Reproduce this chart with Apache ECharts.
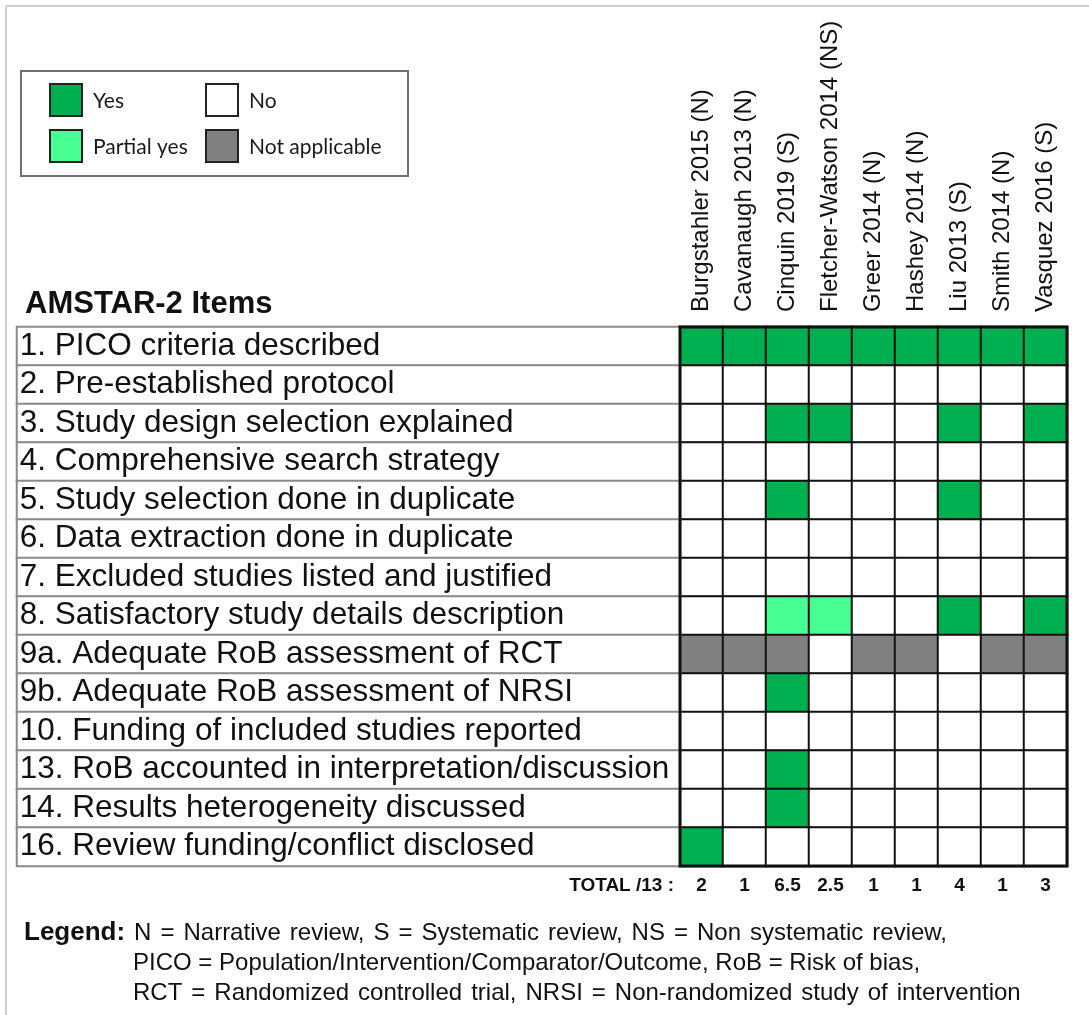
<!DOCTYPE html>
<html>
<head>
<meta charset="utf-8">
<script src="https://cdn.jsdelivr.net/npm/echarts@6/dist/echarts.min.js"></script>
<style>
  html, body { margin: 0; padding: 0; background: #fff; }
  #chart { width: 1089px; height: 1015px; }
</style>
</head>
<body>
<div id="chart"></div>
<script>
// 数据 ===============================================================
var studies = [
    'Burgstahler 2015 (N)', 'Cavanaugh 2013 (N)', 'Cinquin 2019 (S)',
    'Fletcher-Watson 2014 (NS)', 'Greer 2014 (N)', 'Hashey 2014 (N)',
    'Liu 2013 (S)', 'Smith 2014 (N)', 'Vasquez 2016 (S)'
];
var items = [
    '1. PICO criteria described',
    '2. Pre-established protocol',
    '3. Study design selection explained',
    '4. Comprehensive search strategy',
    '5. Study selection done in duplicate',
    '6. Data extraction done in duplicate',
    '7. Excluded studies listed and justified',
    '8. Satisfactory study details description',
    '9a. Adequate RoB assessment of RCT',
    '9b. Adequate RoB assessment of NRSI',
    '10. Funding of included studies reported',
    '13. RoB accounted in interpretation/discussion',
    '14. Results heterogeneity discussed',
    '16. Review funding/conflict disclosed'
];
// 1 = Yes, 0.5 = Partial yes, 0 = No, -1 = Not applicable
var ratings = [
    [1, 1, 1, 1, 1, 1, 1, 1, 1],
    [0, 0, 0, 0, 0, 0, 0, 0, 0],
    [0, 0, 1, 1, 0, 0, 1, 0, 1],
    [0, 0, 0, 0, 0, 0, 0, 0, 0],
    [0, 0, 1, 0, 0, 0, 1, 0, 0],
    [0, 0, 0, 0, 0, 0, 0, 0, 0],
    [0, 0, 0, 0, 0, 0, 0, 0, 0],
    [0, 0, 0.5, 0.5, 0, 0, 1, 0, 1],
    [-1, -1, -1, 0, -1, -1, 0, -1, -1],
    [0, 0, 1, 0, 0, 0, 0, 0, 0],
    [0, 0, 0, 0, 0, 0, 0, 0, 0],
    [0, 0, 1, 0, 0, 0, 0, 0, 0],
    [0, 0, 1, 0, 0, 0, 0, 0, 0],
    [1, 0, 0, 0, 0, 0, 0, 0, 0]
];
var totals = ['2', '1', '6.5', '2.5', '1', '1', '4', '1', '3'];
var ratingNames = ['Yes', 'No', 'Partial yes', 'Not applicable'];
var ratingValues = [1, 0, 0.5, -1];
var ratingColors = ['#00b050', '#ffffff', '#47ff93', '#808080'];
var noteLines = [
    'N = Narrative review, S = Systematic review, NS = Non systematic review,',
    'PICO = Population/Intervention/Comparator/Outcome, RoB = Risk of bias,',
    'RCT = Randomized controlled trial, NRSI = Non-randomized study of intervention'
];

// 函数定义 ===========================================================
function getCellData() {
    var out = [];
    ratings.forEach(function(row, y) {
        row.forEach(function(v, x) {
            out.push([x, y, v]);
        });
    });
    return out;
}

function getLabelData() {
    return items.map(function(item, y) {
        return [0, y, 0];
    });
}

// 空格换成定宽片段 (原图略微两端对齐)
function spaced(line) {
    return line.split(' ').join('{s|}');
}

function legendGraphics() {
    var g = [{
        type: 'rect',
        shape: { x: 21, y: 71, width: 387, height: 105 },
        style: { fill: '#fff', stroke: '#6f6f6f', lineWidth: 2 }
    }];
    var pos = [[50, 84], [206, 84], [50, 130], [206, 130]];
    ratingNames.forEach(function(name, i) {
        g.push({
            type: 'rect',
            shape: { x: pos[i][0], y: pos[i][1], width: 32, height: 32 },
            style: { fill: ratingColors[i], stroke: '#222', lineWidth: 2 }
        });
        g.push({
            type: 'text',
            x: pos[i][0] + 43,
            y: pos[i][1] + 17,
            style: {
                text: name, fill: '#1a1a1a', font: '21px Lato',
                textVerticalAlign: 'middle'
            }
        });
    });
    return g;
}

var chart = echarts.init(document.getElementById('chart'));

var noteFont = '24px "Liberation Sans"';
var option = {
    animation: false,
    title: {
        text: 'AMSTAR-2 Items',
        left: 20,
        top: 284,
        textStyle: { fontFamily: 'Liberation Sans', fontSize: 31, fontWeight: 'bold', color: '#111' }
    },
    grid: [
        { left: 680, top: 327, width: 387, height: 539 },
        { left: 17, top: 327, width: 663, height: 539 }
    ],
    xAxis: [
        {
            gridIndex: 0, type: 'category', data: studies, position: 'top',
            axisLine: { show: false }, axisTick: { show: false }, splitLine: { show: false },
            axisLabel: {
                rotate: -90, margin: 15, interval: 0,
                fontFamily: 'Liberation Sans', fontSize: 24, color: '#111'
            }
        },
        {
            gridIndex: 0, type: 'category', data: totals, position: 'bottom',
            axisLine: { show: false }, axisTick: { show: false }, splitLine: { show: false },
            axisLabel: {
                margin: 10, interval: 0,
                fontFamily: 'Liberation Sans', fontSize: 19, fontWeight: 'bold', color: '#111'
            }
        },
        { gridIndex: 1, type: 'category', data: [''], show: false }
    ],
    yAxis: [
        { gridIndex: 0, type: 'category', data: items, inverse: true, show: false },
        { gridIndex: 1, type: 'category', data: items, inverse: true, show: false }
    ],
    visualMap: {
        type: 'piecewise',
        show: false,
        seriesIndex: 0,
        dimension: 2,
        pieces: ratingValues.map(function(v, i) {
            return { value: v, color: ratingColors[i] };
        })
    },
    series: [
        {
            name: 'ratings',
            type: 'heatmap',
            xAxisIndex: 0,
            yAxisIndex: 0,
            data: getCellData(),
            itemStyle: { borderColor: '#111', borderWidth: 2 },
            emphasis: { disabled: true }
        },
        {
            name: 'items',
            type: 'heatmap',
            xAxisIndex: 2,
            yAxisIndex: 1,
            data: getLabelData(),
            itemStyle: { color: '#fff', borderColor: '#8a8a8a', borderWidth: 2 },
            label: {
                show: true,
                position: 'insideLeft',
                distance: 4,
                padding: [5, 0, 0, 0],
                formatter: function(p) { return items[p.data[1]]; },
                fontFamily: 'Liberation Sans',
                fontSize: 31.5,
                color: '#111'
            },
            emphasis: { disabled: true }
        }
    ],
    graphic: [
        // 外框
        { type: 'line', shape: { x1: 6, y1: 6, x2: 1089, y2: 6 }, style: { stroke: '#cfcfcf', lineWidth: 2 } },
        { type: 'line', shape: { x1: 6, y1: 6, x2: 6, y2: 1015 }, style: { stroke: '#cfcfcf', lineWidth: 2 } },
        {
            type: 'rect', shape: { x: 680, y: 327, width: 387, height: 539 },
            style: { fill: null, stroke: '#111', lineWidth: 3 }, z: 10
        },
        {
            type: 'text', x: 674, y: 886,
            style: {
                text: 'TOTAL /13 :', fill: '#111', font: 'bold 19px "Liberation Sans"',
                textAlign: 'right', textVerticalAlign: 'middle'
            }
        },
        {
            type: 'text', x: 24, y: 933,
            style: {
                text: '{b|Legend:}{s|}' + spaced(noteLines[0]),
                rich: {
                    b: { fontWeight: 'bold', fontSize: 26, fontFamily: 'Liberation Sans' },
                    s: { width: 9 }
                },
                fill: '#111', font: noteFont, textVerticalAlign: 'middle'
            }
        },
        {
            type: 'text', x: 133, y: 963,
            style: {
                text: noteLines[1],
                fill: '#111', font: noteFont, textVerticalAlign: 'middle'
            }
        },
        {
            type: 'text', x: 133, y: 993,
            style: {
                text: spaced(noteLines[2]),
                rich: { s: { width: 9 } },
                fill: '#111', font: noteFont, textVerticalAlign: 'middle'
            }
        }
    ].concat(legendGraphics())
};

chart.setOption(option);
</script>
</body>
</html>
